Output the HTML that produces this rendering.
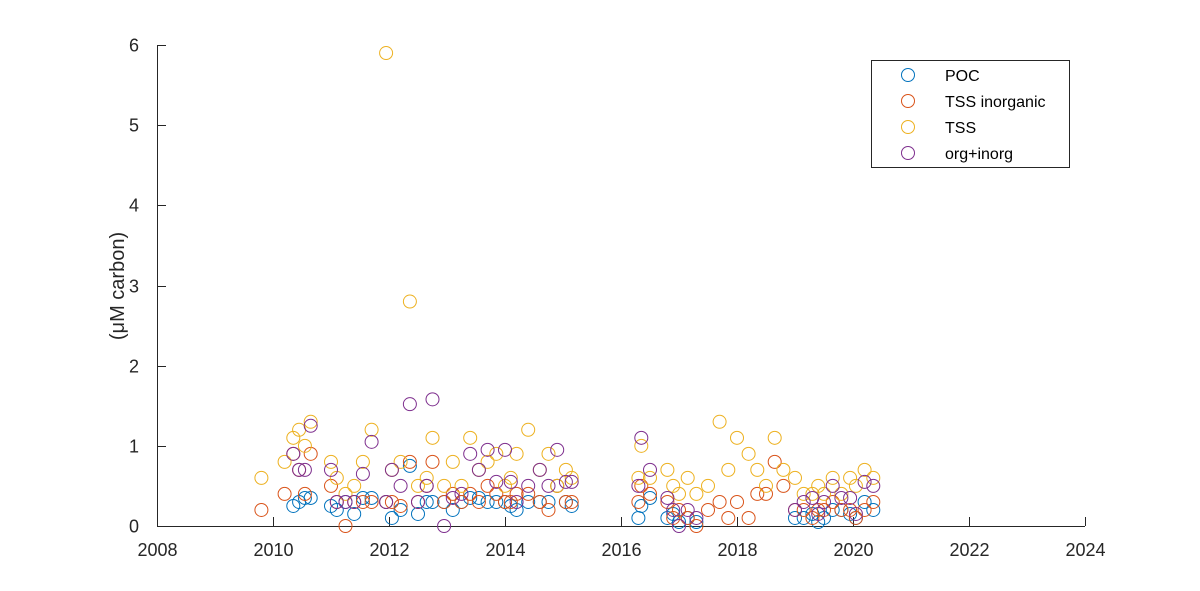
<!DOCTYPE html>
<html><head><meta charset="utf-8"><style>
html,body{margin:0;padding:0;background:#fff;}
svg{display:block;font-family:"Liberation Sans",Arial,sans-serif;}
</style></head><body>
<svg id="chart" width="1200" height="591">
<g id="axes"></g>
<g id="marks"></g>
<text transform="translate(124,286) rotate(-90)" text-anchor="middle" font-size="20" fill="#262626">(μM carbon)</text>
<g>
<rect x="871.5" y="60.5" width="198" height="107" fill="#fff" stroke="#262626" stroke-width="1"/>
<g><circle cx="908" cy="75" r="6.5" fill="none" stroke="#0072BD"/><text x="945" y="81" font-size="16" fill="#000">POC</text></g>
<g><circle cx="908" cy="101" r="6.5" fill="none" stroke="#D95319"/><text x="945" y="107" font-size="16" fill="#000">TSS inorganic</text></g>
<g><circle cx="908" cy="127" r="6.5" fill="none" stroke="#EDB120"/><text x="945" y="133" font-size="16" fill="#000">TSS</text></g>
<g><circle cx="908" cy="153" r="6.5" fill="none" stroke="#7E2F8E"/><text x="945" y="159" font-size="16" fill="#000">org+inorg</text></g>
</g>
</svg>
<script>
const xTicks = [2008, 2010, 2012, 2014, 2016, 2018, 2020, 2022, 2024];
const yTicks = [0, 1, 2, 3, 4, 5, 6];
const dates = [2009.8,2010.2,2010.35,2010.45,2010.55,2010.65,2011.0,2011.1,2011.25,2011.4,2011.55,2011.7,2011.95,2012.05,2012.2,2012.36,2012.5,2012.65,2012.75,2012.95,2013.1,2013.25,2013.4,2013.55,2013.7,2013.85,2014.0,2014.1,2014.2,2014.4,2014.6,2014.75,2014.9,2015.05,2015.15,
2016.3,2016.35,2016.5,2016.8,2016.9,2017.0,2017.15,2017.3,2017.5,2017.7,2017.85,2018.0,2018.2,2018.35,2018.5,2018.65,2018.8,2019.0,2019.15,2019.3,2019.4,2019.5,2019.65,2019.8,2019.95,2020.05,2020.2,2020.35];
const tss = [0.6,0.8,1.1,1.2,1.0,1.3,0.8,0.6,0.4,0.5,0.8,1.2,5.9,0.7,0.8,2.8,0.5,0.6,1.1,0.5,0.8,0.5,1.1,0.7,0.8,0.9,0.5,0.6,0.9,1.2,0.7,0.9,0.5,0.7,0.6,
0.6,1.0,0.6,0.7,0.5,0.4,0.6,0.4,0.5,1.3,0.7,1.1,0.9,0.7,0.5,1.1,0.7,0.6,0.4,0.4,0.5,0.4,0.6,0.4,0.6,0.5,0.7,0.6];
const tssInorg = [0.2,0.4,0.9,0.7,0.4,0.9,0.5,0.3,0.0,0.3,0.3,0.3,0.3,0.3,0.25,0.8,0.3,0.5,0.8,0.3,0.4,0.3,0.4,0.3,0.5,0.4,0.3,0.3,0.4,0.4,0.3,0.2,0.5,0.3,0.3,
0.3,0.5,0.4,0.3,0.1,0.2,0.1,0.0,0.2,0.3,0.1,0.3,0.1,0.4,0.4,0.8,0.5,0.2,0.2,0.1,0.2,0.2,0.3,0.2,0.2,0.1,0.2,0.3];
const poc = [null,null,0.25,0.3,0.35,0.35,0.25,0.2,0.3,0.15,0.35,0.35,0.3,0.1,0.2,0.75,0.15,0.3,0.3,0.3,0.2,0.3,0.35,0.35,0.3,0.3,0.3,0.25,0.2,0.3,0.3,0.3,0.5,0.3,0.25,
0.1,0.25,0.35,0.1,0.15,0.05,0.1,0.05,null,null,null,null,null,null,null,null,null,0.1,0.1,0.15,0.05,0.1,0.2,0.2,0.15,0.1,0.3,0.2];
const orgInorg = [null,null,0.9,0.7,0.7,1.25,0.7,0.3,0.3,0.3,0.65,1.05,0.3,0.7,0.5,1.52,0.3,0.5,1.58,0.0,0.35,0.4,0.9,0.7,0.95,0.55,0.95,0.55,0.3,0.5,0.7,0.5,0.95,0.55,0.55,
0.5,1.1,0.7,0.35,0.2,0.0,0.2,0.1,null,null,null,null,null,null,null,null,null,0.2,0.3,0.35,0.15,0.3,0.5,0.35,0.35,0.15,0.55,0.5];

const X0=157, X1=1085, Y0=526, Y1=45;
function xs(v){return X0+(v-2008)/(2024-2008)*(X1-X0);}
function ys(v){return Y0-(v-0)/(6-0)*(Y0-Y1);}
const NS="http://www.w3.org/2000/svg";
const axes=document.getElementById('axes');
function mk(tag,attrs,parent){const e=document.createElementNS(NS,tag);for(const k in attrs)e.setAttribute(k,attrs[k]);parent.appendChild(e);return e;}
let l=mk('line',{x1:X0,y1:Y0+0.5,x2:X1,y2:Y0+0.5,stroke:'#262626','stroke-width':1},axes);


l=mk('line',{x1:X0+0.5,y1:Y1,x2:X0+0.5,y2:Y0,stroke:'#262626','stroke-width':1},axes);


xTicks.forEach(t=>{const x=Math.round(xs(t))+0.5;
 mk('line',{x1:x,y1:Y0,x2:x,y2:Y0-9,stroke:'#262626'},axes);
 const tx=mk('text',{x:x,y:556,'text-anchor':'middle','font-size':'18',fill:'#262626'},axes);tx.textContent=t;
 
 });
yTicks.forEach(t=>{const y=Math.round(ys(t))+0.5;
 mk('line',{x1:X0,y1:y,x2:X0+9,y2:y,stroke:'#262626'},axes);
 const tx=mk('text',{x:139,y:y+6,'text-anchor':'end','font-size':'18',fill:'#262626'},axes);tx.textContent=t;
 
 });
const marks=document.getElementById('marks');
const series=[[poc,'#0072BD','poc'],[tssInorg,'#D95319','tss-inorganic'],[tss,'#EDB120','tss'],[orgInorg,'#7E2F8E','org-inorg']];
series.forEach(([vals,col,name])=>{vals.forEach((v,i)=>{if(v===null)return;
 const c=mk('circle',{cx:xs(dates[i]),cy:ys(v),r:6.5,fill:'none',stroke:col,'stroke-width':1},marks);
 
 });});
</script>
</body></html>
